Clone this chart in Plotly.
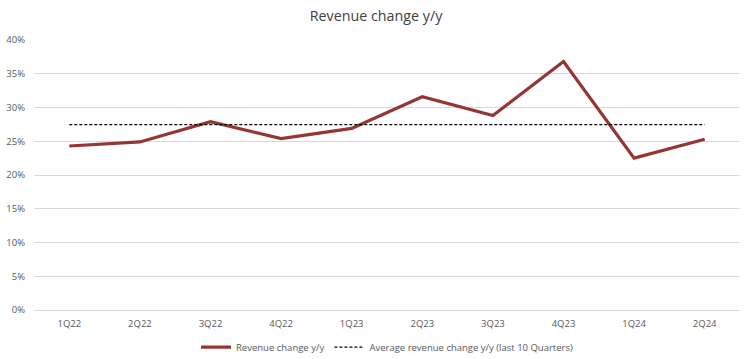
import plotly.graph_objects as go

quarters = ["1Q22", "2Q22", "3Q22", "4Q22", "1Q23", "2Q23", "3Q23", "4Q23", "1Q24", "2Q24"]
revenue_change = [24.3, 24.9, 27.9, 25.4, 26.9, 31.6, 28.8, 36.8, 22.5, 25.3]
average_change = [27.45] * len(quarters)

fig = go.Figure()
fig.add_trace(go.Scatter(
    x=quarters, y=revenue_change, mode="lines", name="Revenue change y/y",
    line=dict(color="#943634", width=3.2),
))
fig.add_trace(go.Scatter(
    x=quarters, y=average_change, mode="lines",
    name="Average revenue change y/y (last 10 Quarters)",
    line=dict(color="#000000", width=1.3, dash="3px,2px"),
))

fig.update_layout(
    width=752, height=359,
    margin=dict(l=34, r=12, t=40, b=49, autoexpand=False),
    paper_bgcolor="white", plot_bgcolor="white",
    font=dict(family="Open Sans, Liberation Sans, sans-serif", color="#595959", size=9.5),
    title=dict(text="Revenue change y/y", x=0.5, xanchor="center", yref="container", y=0.955,
               yanchor="middle", font=dict(size=14.3, color="#404040")),
    showlegend=True,
    legend=dict(orientation="h", x=0.5, xanchor="center", yref="container", y=0.033, yanchor="middle",
                bgcolor="rgba(0,0,0,0)", font=dict(size=9.5, color="#595959"), itemwidth=30),
    xaxis=dict(type="category", range=[-0.5, 9.5], showgrid=False, showline=False, automargin=False,
               ticks="", ticklabelstandoff=6, tickfont=dict(size=9.5, color="#595959")),
    yaxis=dict(range=[0, 40], dtick=5, ticksuffix="%", showgrid=True, gridcolor="#d9d9d9",
               gridwidth=1, zeroline=True, zerolinecolor="#d9d9d9", zerolinewidth=1, automargin=False,
               showline=False, ticks="", ticklabelstandoff=8, tickfont=dict(size=9.5, color="#595959")),
)

fig.write_html("out.html", config={"displayModeBar": False},
               post_script="document.body.style.margin='0';")
